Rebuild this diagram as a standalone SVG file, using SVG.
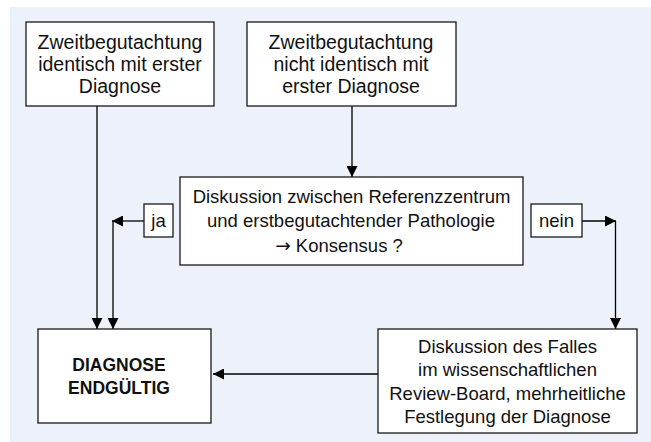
<svg xmlns="http://www.w3.org/2000/svg" width="651" height="442" viewBox="0 0 651 442">
  <style>
    .box { fill: #ffffff; stroke: #1a1a1a; stroke-width: 1.3; }
    .t { font-family: "Liberation Sans", Arial, sans-serif; font-size: 18.5px; fill: #111111; text-anchor: middle; }
    .top { font-size: 19.5px; }
    .b { font-weight: bold; font-size: 17.5px; }
    .arr { font-family: "DejaVu Sans", sans-serif; }
    .c { fill: none; stroke: #000000; stroke-width: 1.3; }
  </style>
  <defs>
    <marker id="ah" markerUnits="userSpaceOnUse" markerWidth="12" markerHeight="11" refX="11" refY="5.5" orient="auto">
      <path d="M0,0 L11,5.5 L0,11 Z" fill="#000000"/>
    </marker>
  </defs>
  <rect x="10" y="7" width="641" height="435" fill="#EDF1F9"/>

  <g id="connectors">
    <line class="c" x1="97" y1="106" x2="97" y2="329" marker-end="url(#ah)"/>
    <line class="c" x1="352" y1="106" x2="352" y2="177" marker-end="url(#ah)"/>
    <line class="c" x1="144" y1="221" x2="112" y2="221" marker-end="url(#ah)"/>
    <line class="c" x1="113" y1="221" x2="113" y2="329" marker-end="url(#ah)"/>
    <line class="c" x1="582" y1="221" x2="616" y2="221" marker-end="url(#ah)"/>
    <line class="c" x1="615.5" y1="221" x2="615.5" y2="329" marker-end="url(#ah)"/>
    <line class="c" x1="378" y1="374" x2="213" y2="374" marker-end="url(#ah)"/>
  </g>

  <g id="n1">
    <rect class="box" x="26" y="22" width="188" height="84"/>
    <text class="t top" x="120" y="49">Zweitbegutachtung</text>
    <text class="t top" x="120" y="71">identisch mit erster</text>
    <text class="t top" x="120" y="93">Diagnose</text>
  </g>
  <g id="n2">
    <rect class="box" x="247" y="22" width="209" height="84"/>
    <text class="t top" x="351" y="49">Zweitbegutachtung</text>
    <text class="t top" x="351" y="71">nicht identisch mit</text>
    <text class="t top" x="351" y="93">erster Diagnose</text>
  </g>
  <g id="n3">
    <rect class="box" x="180" y="177" width="343" height="88"/>
    <text class="t" x="351.5" y="203">Diskussion zwischen Referenzzentrum</text>
    <text class="t" x="351" y="227">und erstbegutachtender Pathologie</text>
    <text class="t" x="339" y="252"><tspan class="arr">→</tspan> Konsensus ?</text>
  </g>
  <g id="ja">
    <rect class="box" x="144" y="204" width="29" height="33"/>
    <text class="t" x="158.5" y="227">ja</text>
  </g>
  <g id="nein">
    <rect class="box" x="531" y="204" width="51" height="33"/>
    <text class="t" x="556.5" y="227">nein</text>
  </g>
  <g id="n4">
    <rect class="box" x="38" y="329" width="173" height="94"/>
    <text class="t b" x="119" y="371">DIAGNOSE</text>
    <text class="t b" x="119" y="394">ENDGÜLTIG</text>
  </g>
  <g id="n5">
    <rect class="box" x="378" y="329" width="259" height="104"/>
    <text class="t" x="507.5" y="353">Diskussion des Falles</text>
    <text class="t" x="507.5" y="376">im wissenschaftlichen</text>
    <text class="t" x="507.5" y="400">Review-Board, mehrheitliche</text>
    <text class="t" x="507.5" y="423">Festlegung der Diagnose</text>
  </g>
</svg>
